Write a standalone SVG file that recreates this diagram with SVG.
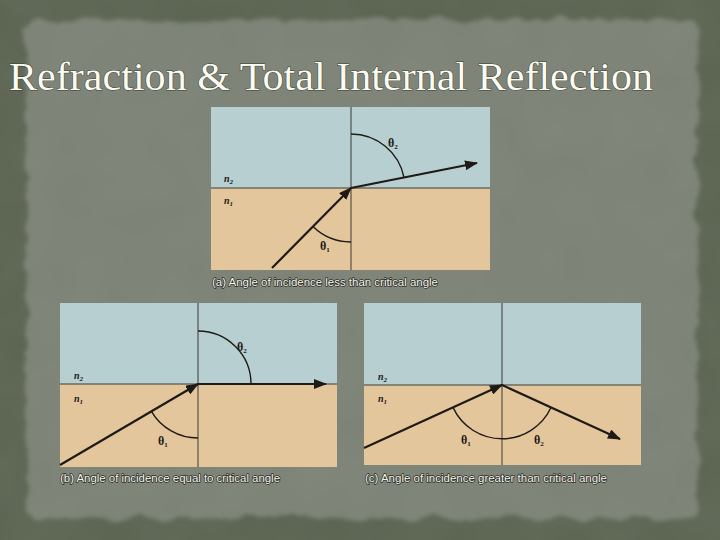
<svg xmlns="http://www.w3.org/2000/svg" width="720" height="540" viewBox="0 0 720 540">
<style>
.blue{fill:#b7cfd0}
.tan{fill:#e4c69d}
.axis{stroke:#3a3a36;stroke-width:1;fill:none}
.ray{stroke:#1e1a16;stroke-width:2.2;fill:none;marker-end:url(#ah)}
.arc{stroke:#1e1a16;stroke-width:1.4;fill:none}
.th{font-family:"Liberation Serif",serif;font-weight:bold;font-size:12px;fill:#1e1a16}
.sub{font-size:7px}
.n{font-family:"Liberation Serif",serif;font-weight:bold;font-style:italic;font-size:10px;fill:#1e1a16}
.cap{font-family:"Liberation Sans",Arial,sans-serif;font-size:11px;fill:#f6f6ee;stroke:#2a2a24;stroke-width:1.4;paint-order:stroke;stroke-linejoin:round}
.title{font-family:"Liberation Serif",serif;font-size:40px;fill:#fbfbf2;stroke:#3a3d33;stroke-width:1;paint-order:stroke}
</style>
<defs>
<marker id="ah" markerWidth="13" markerHeight="10" refX="12" refY="5" orient="auto" markerUnits="userSpaceOnUse">
<path d="M0,0 L13,5 L0,10 Z" fill="#1e1a16"/>
</marker>
<filter id="rough" x="-5%" y="-5%" width="110%" height="110%">
<feTurbulence type="fractalNoise" baseFrequency="0.04" numOctaves="3" seed="3" result="t"/>
<feDisplacementMap in="SourceGraphic" in2="t" scale="14" xChannelSelector="R" yChannelSelector="G" result="d"/>
<feGaussianBlur in="d" stdDeviation="2"/>
</filter>
<filter id="grain">
<feTurbulence type="fractalNoise" baseFrequency="0.02" numOctaves="2" seed="7"/>
<feColorMatrix type="matrix" values="0 0 0 0 0.40  0 0 0 0 0.43  0 0 0 0 0.37  0 0 0 0.10 0"/>
</filter>
</defs>

<g id="background">
<rect x="0" y="0" width="720" height="540" fill="#5b6351"/>
<rect x="26" y="20" width="672" height="498" rx="10" fill="#7c8376" filter="url(#rough)"/>
<rect x="0" y="0" width="720" height="540" filter="url(#grain)"/>
</g>

<text id="title" class="title" x="9" y="90" textLength="644" lengthAdjust="spacingAndGlyphs">Refraction &amp; Total Internal Reflection</text>

<g id="panel-a">
<rect class="blue" x="211" y="107" width="279" height="81"/>
<rect class="tan" x="211" y="188" width="279" height="82"/>
<line class="axis" x1="211" y1="188" x2="490" y2="188"/>
<line class="axis" x1="351" y1="107" x2="351" y2="270"/>
<path class="arc" d="M351,134 A54,54 0 0 1 404,177.5"/>
<path class="arc" d="M351,242 A54,54 0 0 1 313,226.6"/>
<text class="th" x="388" y="147">θ<tspan class="sub" dy="2">2</tspan></text>
<text class="th" x="320" y="250">θ<tspan class="sub" dy="2">1</tspan></text>
<text class="n" x="224" y="182">n<tspan class="sub" dy="2">2</tspan></text>
<text class="n" x="224" y="204">n<tspan class="sub" dy="2">1</tspan></text>
<text class="cap" x="212" y="286" textLength="226" lengthAdjust="spacingAndGlyphs">(a) Angle of incidence less than critical angle</text>
</g>

<g id="panel-b">
<rect class="blue" x="60" y="303" width="277" height="81"/>
<rect class="tan" x="60" y="384" width="277" height="83"/>
<line class="axis" x1="60" y1="384" x2="337" y2="384"/>
<line class="axis" x1="198" y1="303" x2="198" y2="467"/>
<path class="arc" d="M198,331 A53,53 0 0 1 251,384"/>
<path class="arc" d="M198,438 A54,54 0 0 1 151.4,411.3"/>
<text class="th" x="237" y="351">θ<tspan class="sub" dy="2">2</tspan></text>
<text class="th" x="158" y="445">θ<tspan class="sub" dy="2">1</tspan></text>
<text class="n" x="74" y="379">n<tspan class="sub" dy="2">2</tspan></text>
<text class="n" x="74" y="402">n<tspan class="sub" dy="2">1</tspan></text>
<text class="cap" x="60" y="482" textLength="220" lengthAdjust="spacingAndGlyphs">(b) Angle of incidence equal to critical angle</text>
</g>

<g id="panel-c">
<rect class="blue" x="364" y="303" width="277" height="82"/>
<rect class="tan" x="364" y="385" width="277" height="80"/>
<line class="axis" x1="364" y1="385" x2="641" y2="385"/>
<line class="axis" x1="502" y1="303" x2="502" y2="465"/>
<path class="arc" d="M453,407.4 A54,54 0 0 0 551,407.5"/>
<text class="th" x="461" y="444">θ<tspan class="sub" dy="2">1</tspan></text>
<text class="th" x="534" y="444">θ<tspan class="sub" dy="2">2</tspan></text>
<text class="n" x="378" y="380">n<tspan class="sub" dy="2">2</tspan></text>
<text class="n" x="378" y="402">n<tspan class="sub" dy="2">1</tspan></text>
<text class="cap" x="365" y="482" textLength="242" lengthAdjust="spacingAndGlyphs">(c) Angle of incidence greater than critical angle</text>
</g>

<g id="connectors">
<line class="ray" x1="272" y1="268" x2="351" y2="188"/>
<line class="ray" x1="351" y1="188" x2="477" y2="163"/>
<line class="ray" x1="60" y1="465" x2="198" y2="384"/>
<line class="ray" x1="198" y1="384" x2="326" y2="384"/>
<line class="ray" x1="364" y1="448" x2="502" y2="385"/>
<line class="ray" x1="502" y1="385" x2="620" y2="439"/>
</g>
</svg>
